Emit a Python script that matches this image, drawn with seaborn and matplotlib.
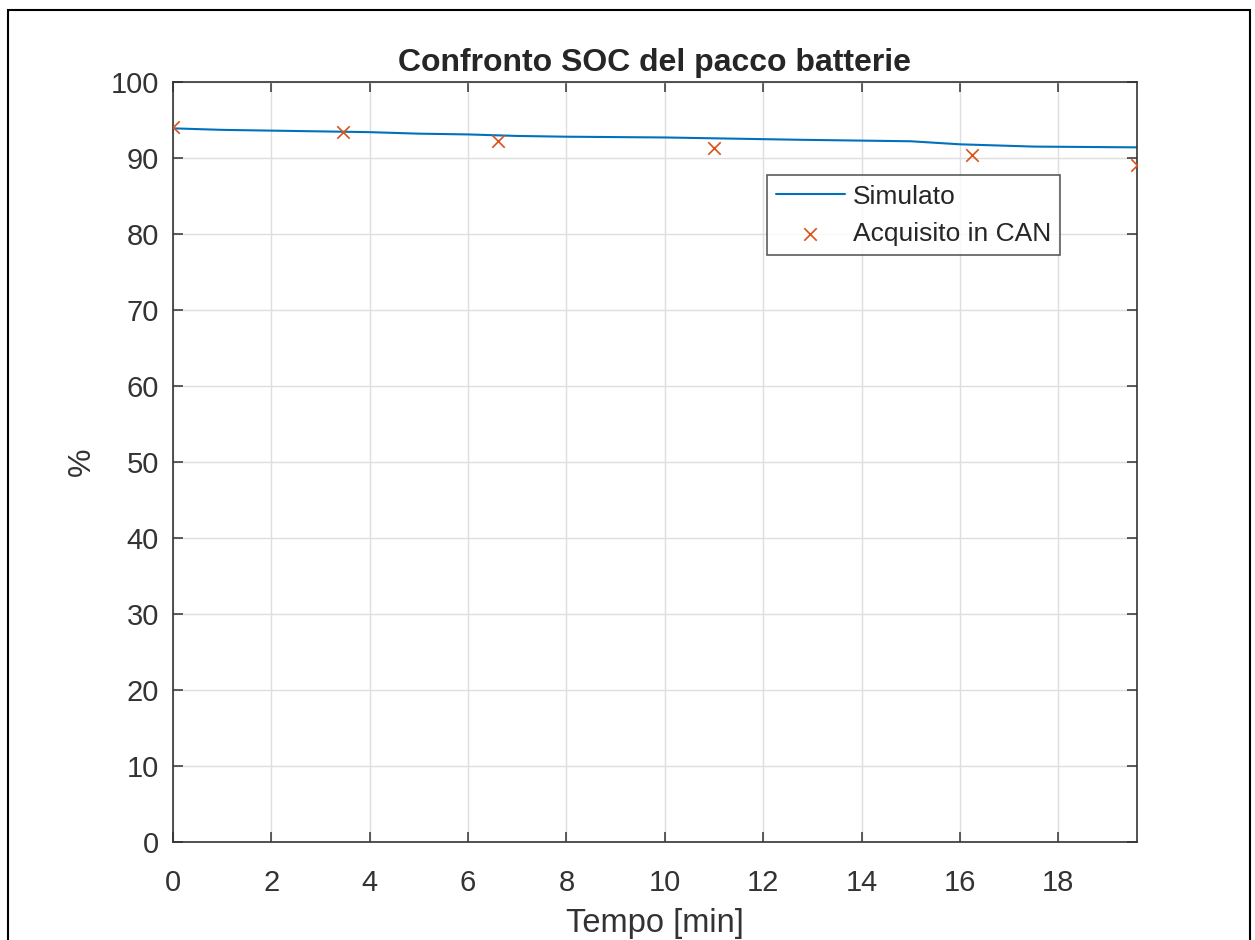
import matplotlib
matplotlib.use("Agg")
import numpy as np
import pandas as pd
import seaborn as sns
import matplotlib.pyplot as plt
from matplotlib.patches import Rectangle

# simulated pack SOC
sim_time = [0.0, 1.0, 2.0, 3.0, 4.0, 5.0, 6.0, 7.0, 8.0, 10.0, 12.7, 15.0, 16.0, 17.5, 19.6]
sim_soc = [93.9, 93.7, 93.6, 93.5, 93.4, 93.2, 93.1, 92.9, 92.8, 92.7, 92.4, 92.2, 91.8, 91.5, 91.4]

# CAN acquired SOC
can_time = [0.0, 3.45, 6.6, 11.0, 16.25, 19.6]
can_soc = [94.1, 93.4, 92.2, 91.3, 90.4, 89.1]

title = "Confronto SOC del pacco batterie"
xlabel = "Tempo [min]"
ylabel = "%"

sim = pd.DataFrame({"t": sim_time, "soc": sim_soc})
can = pd.DataFrame({"t": can_time, "soc": can_soc})

sns.set_theme(style="white")
plt.rcParams["font.family"] = ["Liberation Sans", "DejaVu Sans"]

fig = plt.figure(figsize=(12.55, 9.4), dpi=100)
ax = fig.add_axes([0.1378, 0.104, 0.906 - 0.1378, 0.9128 - 0.104])

sns.lineplot(data=sim, x="t", y="soc", ax=ax, color="#0072BD", linewidth=1.5,
             label="Simulato")
sns.scatterplot(data=can, x="t", y="soc", ax=ax, color="#D95319", marker="x",
                s=80, linewidth=1.2, label="Acquisito in CAN", zorder=3)

ax.set_xlim(0, 19.6)
ax.set_ylim(0, 100)
ax.set_xticks(np.arange(0, 19, 2))
ax.set_yticks(np.arange(0, 101, 10))
ax.grid(True, color="#dedede", linewidth=1.0)
ax.set_axisbelow(True)

for s in ax.spines.values():
    s.set_color("#333333")
    s.set_linewidth(1.2)
ax.tick_params(direction="in", length=7, width=1.1, colors="#333333",
               labelsize=21, top=True, right=True, bottom=True, left=True)
ax.tick_params(axis="x", pad=19)
ax.tick_params(axis="y", pad=10)

ax.set_title(title, fontsize=23, fontweight="bold", pad=8)
ax.set_xlabel(xlabel, fontsize=23.5, color="#333333", labelpad=8)
ax.set_ylabel(ylabel, fontsize=23, color="#333333", labelpad=10)

leg = ax.legend(loc="upper left", bbox_to_anchor=(0.616, 0.877), fontsize=19,
                frameon=True, fancybox=False, edgecolor="#333333",
                handlelength=2.6, handletextpad=0.3, borderpad=0.35,
                labelspacing=0.5, borderaxespad=0)
leg.get_frame().set_linewidth(1.2)

fig.patches.append(Rectangle((8 / 1255, -0.05), (1250 - 8) / 1255, 1 - 10 / 940 + 0.05,
                             transform=fig.transFigure, fill=False,
                             edgecolor="black", linewidth=1.5))

fig.savefig("out.png", dpi=100)
